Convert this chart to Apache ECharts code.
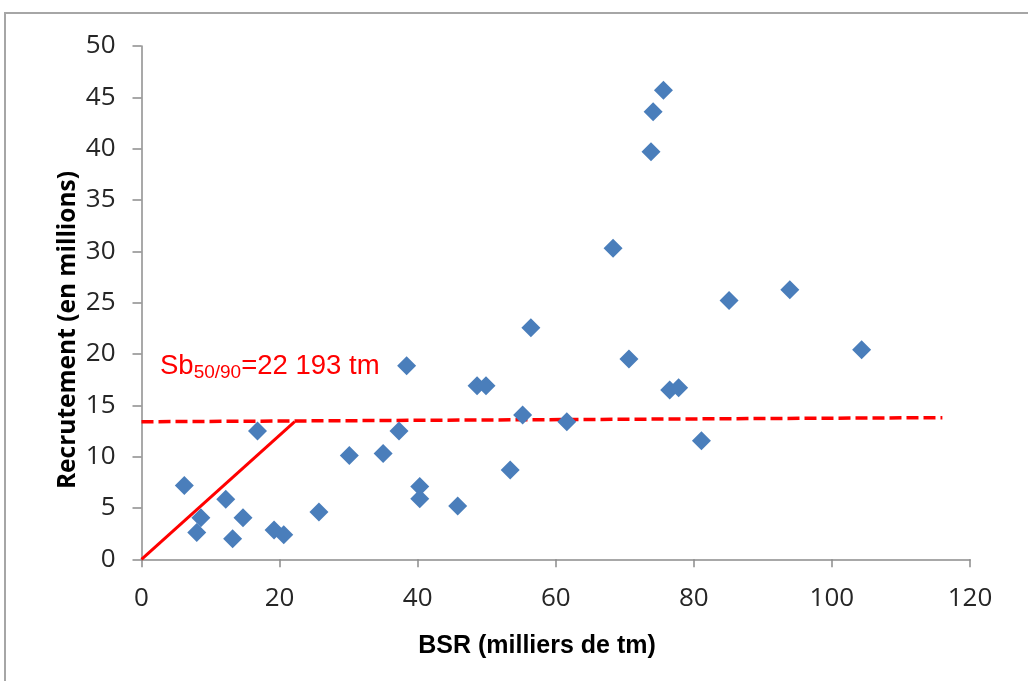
<!DOCTYPE html>
<html>
<head>
<meta charset="utf-8">
<script src="https://cdn.jsdelivr.net/npm/echarts@6/dist/echarts.min.js"></script>
<style>
  html, body { margin: 0; padding: 0; background: #fff; }
  #chart { width: 1028px; height: 681px; }
</style>
</head>
<body>
<div id="chart"></div>
<script>
// Spawning stock biomass (thousand t) and recruitment (millions)
const bsr = [6.2, 8.0, 8.6, 12.2, 13.2, 14.7, 16.8, 19.2, 20.6, 25.7,
             30.1, 35.0, 37.3, 38.4, 40.3, 40.3, 45.8, 48.6, 49.9, 53.4,
             55.2, 56.4, 61.6, 68.3, 70.6, 73.8, 74.1, 75.6, 76.5, 77.8,
             81.1, 85.1, 93.9, 104.3];
const recruitment = [7.2, 2.6, 4.05, 5.85, 2.0, 4.05, 12.5, 2.85, 2.4, 4.6,
                     10.1, 10.3, 12.5, 18.85, 7.1, 5.9, 5.2, 16.9, 16.9, 8.7,
                     14.05, 22.55, 13.4, 30.3, 19.5, 39.7, 43.6, 45.7, 16.5, 16.7,
                     11.55, 25.2, 26.25, 20.4];

// Hockey-stick reference: rising segment up to Sb50/90, then the plateau
const sbBreak = 22.193;
const rPlateau = 13.4;
const slopeLine = [[0, 0], [sbBreak, rPlateau]];
const plateauLine = [[0, 13.4], [116, 13.8]];

const xTicks = { min: 0, max: 120, step: 20 };
const yTicks = { min: 0, max: 50, step: 5 };

const points = bsr.map((x, i) => [x, recruitment[i]]);

const axisGray = '#8c8c8c';
const red = '#ff0000';
const tickText = { fontFamily: 'Open Sans', fontSize: 26, color: '#262626' };

const chart = echarts.init(document.getElementById('chart'));
chart.setOption({
  backgroundColor: '#fff',
  animation: false,
  textStyle: { fontFamily: 'Open Sans', fontSize: 26 },
  grid: { left: 141.5, right: 58, top: 46, bottom: 121.7, containLabel: false, outerBoundsMode: 'none' },
  xAxis: {
    type: 'value',
    min: xTicks.min, max: xTicks.max, interval: xTicks.step,
    splitLine: { show: false },
    axisLine: { show: true, onZero: false, lineStyle: { color: axisGray, width: 1.5 } },
    axisTick: { show: true, inside: false, length: 8, lineStyle: { color: axisGray, width: 1.5 } },
    axisLabel: { margin: 26, fontFamily: tickText.fontFamily, fontSize: tickText.fontSize, color: tickText.color }
  },
  yAxis: {
    type: 'value',
    min: yTicks.min, max: yTicks.max, interval: yTicks.step,
    splitLine: { show: false },
    axisLine: { show: true, onZero: false, lineStyle: { color: axisGray, width: 1.5 } },
    axisTick: { show: true, inside: false, length: 9, lineStyle: { color: axisGray, width: 1.5 } },
    axisLabel: { margin: 26, fontFamily: tickText.fontFamily, fontSize: tickText.fontSize, color: tickText.color }
  },
  series: [
    {
      type: 'line',
      data: slopeLine,
      symbol: 'none',
      lineStyle: { color: red, width: 3 },
      z: 3
    },
    {
      type: 'line',
      data: plateauLine,
      symbol: 'none',
      lineStyle: { color: red, width: 3.5, type: [12, 5] },
      z: 3
    },
    {
      type: 'scatter',
      data: points,
      symbol: 'diamond',
      symbolSize: 19,
      itemStyle: { color: '#4a7ebb', opacity: 1 },
      z: 4
    }
  ],
  graphic: [
    {
      type: 'rect',
      shape: { x: 5, y: 13, width: 1200, height: 900 },
      style: { fill: 'none', stroke: '#a6a6a6', lineWidth: 2 },
      silent: true
    },
    {
      type: 'text',
      left: 160, top: 352,
      style: {
        text: '{a|Sb}{s|50/90}{a|=22 193 tm}',
        fill: red,
        rich: {
          a: { fontFamily: 'Liberation Sans', fontSize: 27.5, fill: red, lineHeight: 33 },
          s: { fontFamily: 'Liberation Sans', fontSize: 19, fill: red, lineHeight: 19, verticalAlign: 'bottom' }
        }
      }
    },
    {
      type: 'text',
      x: 537, y: 646,
      style: {
        text: 'BSR (milliers de tm)',
        fontFamily: 'Liberation Sans', fontWeight: 'bold', fontSize: 25,
        fill: '#000', align: 'center', verticalAlign: 'middle'
      }
    },
    {
      type: 'text',
      x: 68, y: 330, rotation: Math.PI / 2,
      style: {
        text: 'Recrutement (en millions)',
        fontFamily: 'Open Sans', fontWeight: 'bold', fontSize: 24.5,
        fill: '#000', align: 'center', verticalAlign: 'middle'
      }
    }
  ]
});
</script>
</body>
</html>
